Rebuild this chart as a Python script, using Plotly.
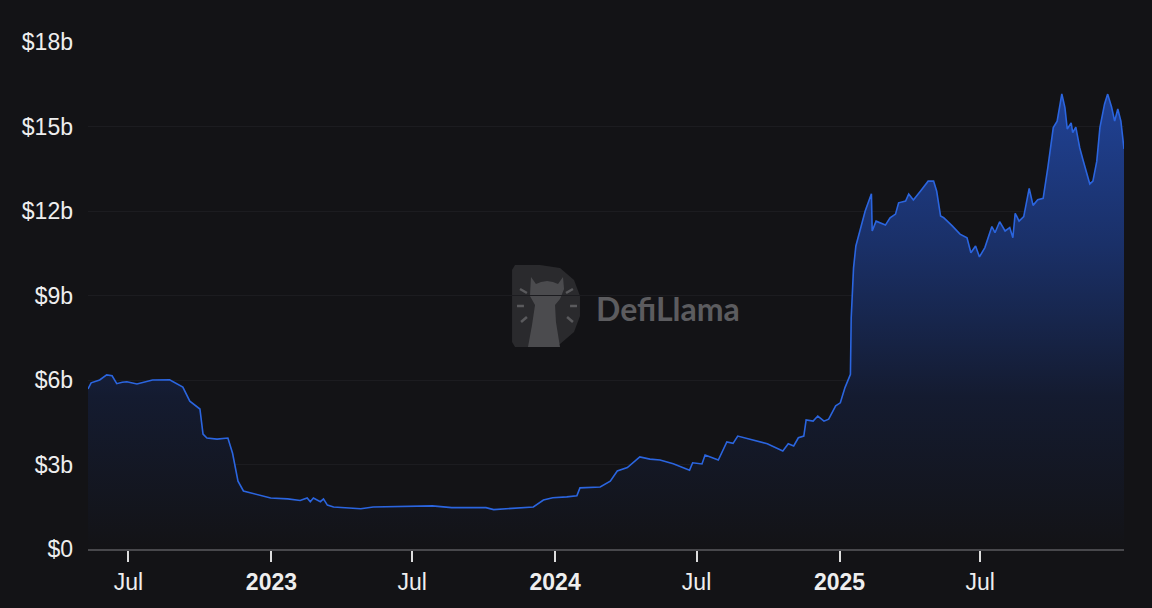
import plotly.graph_objects as go

# TVL, in billions of USD
dates = [
    "2022-05-10", "2022-05-14", "2022-05-25", "2022-06-03", "2022-06-10", "2022-06-16", "2022-06-23",
    "2022-06-29", "2022-07-12", "2022-08-01", "2022-08-23", "2022-09-01", "2022-09-09", "2022-09-18",
    "2022-10-01", "2022-10-05", "2022-10-10", "2022-10-23", "2022-11-06", "2022-11-12", "2022-11-19",
    "2022-11-26", "2022-12-14", "2022-12-31", "2023-01-22", "2023-02-07", "2023-02-16", "2023-02-20",
    "2023-02-24", "2023-03-05", "2023-03-09", "2023-03-14", "2023-03-22", "2023-04-26", "2023-05-12",
    "2023-07-01", "2023-07-27", "2023-08-21", "2023-10-04", "2023-10-14", "2023-12-04", "2023-12-17",
    "2023-12-29", "2024-01-16", "2024-01-29", "2024-02-02", "2024-02-28", "2024-03-12", "2024-03-21",
    "2024-04-03", "2024-04-19", "2024-05-02", "2024-05-15", "2024-06-01", "2024-06-22", "2024-06-26",
    "2024-07-08", "2024-07-12", "2024-07-29", "2024-08-09", "2024-08-17", "2024-08-23", "2024-09-08",
    "2024-09-30", "2024-10-20", "2024-10-27", "2024-11-03", "2024-11-09", "2024-11-16", "2024-11-19",
    "2024-11-28", "2024-12-04", "2024-12-12", "2024-12-18", "2024-12-27", "2025-01-02", "2025-01-08",
    "2025-01-15", "2025-01-16", "2025-01-19", "2025-01-22", "2025-01-28", "2025-02-03", "2025-02-11",
    "2025-02-12", "2025-02-17", "2025-03-01", "2025-03-07", "2025-03-14", "2025-03-18", "2025-03-27",
    "2025-03-31", "2025-04-06", "2025-04-16", "2025-04-25", "2025-05-02", "2025-05-06", "2025-05-11",
    "2025-05-15", "2025-05-26", "2025-06-05", "2025-06-14", "2025-06-19", "2025-06-25", "2025-06-30",
    "2025-07-07", "2025-07-16", "2025-07-20", "2025-07-26", "2025-08-02", "2025-08-08", "2025-08-12",
    "2025-08-15", "2025-08-20", "2025-08-26", "2025-09-02", "2025-09-07", "2025-09-13", "2025-09-20",
    "2025-09-26", "2025-10-03", "2025-10-08", "2025-10-14", "2025-10-18", "2025-10-21", "2025-10-26",
    "2025-10-28", "2025-11-01", "2025-11-06", "2025-11-10", "2025-11-15", "2025-11-19", "2025-11-23",
    "2025-11-28", "2025-12-02", "2025-12-08", "2025-12-12", "2025-12-17", "2025-12-21", "2025-12-25",
    "2025-12-29", "2026-01-02",
]
tvl_b = [
    5.68, 5.90, 6.00, 6.18, 6.15, 5.87, 5.92,
    5.94, 5.86, 6.00, 6.01, 5.86, 5.75, 5.25,
    4.97, 4.08, 3.94, 3.90, 3.94, 3.40, 2.41,
    2.06, 1.92, 1.81, 1.78, 1.72, 1.81, 1.68,
    1.81, 1.68, 1.78, 1.56, 1.49, 1.43, 1.49,
    1.52, 1.53, 1.47, 1.47, 1.40, 1.49, 1.74,
    1.82, 1.85, 1.89, 2.17, 2.20, 2.41, 2.77,
    2.89, 3.27, 3.19, 3.16, 3.03, 2.80, 3.06,
    3.02, 3.34, 3.16, 3.80, 3.75, 4.01, 3.90,
    3.74, 3.48, 3.74, 3.66, 3.95, 4.01, 4.58,
    4.54, 4.72, 4.54, 4.61, 5.08, 5.19, 5.73,
    6.20, 8.20, 9.98, 10.76, 11.36, 12.00, 12.61,
    11.29, 11.64, 11.50, 11.76, 11.89, 12.29, 12.35,
    12.60, 12.39, 12.74, 13.06, 13.06, 12.70, 11.82,
    11.76, 11.47, 11.18, 11.05, 10.52, 10.76, 10.37,
    10.70, 11.45, 11.23, 11.62, 11.29, 11.41, 11.05,
    11.92, 11.64, 11.80, 12.80, 12.20, 12.40, 12.45,
    13.54, 14.96, 15.19, 16.16, 15.67, 14.91, 15.13,
    14.78, 14.98, 14.25, 13.84, 13.31, 12.96, 13.06,
    13.77, 14.96, 15.80, 16.15, 15.69, 15.19, 15.62,
    15.19, 14.20,
]

x_tick_dates = ["2022-07-01", "2023-01-01", "2023-07-01", "2024-01-01",
                "2024-07-01", "2025-01-01", "2025-07-01"]
x_tick_labels = ["Jul", "<b>2023</b>", "Jul", "<b>2024</b>", "Jul", "<b>2025</b>", "Jul"]
y_tick_vals = [0, 3, 6, 9, 12, 15, 18]
y_tick_labels = ["$0", "$3b", "$6b", "$9b", "$12b", "$15b", "$18b"]

BG = "#131316"
LINE = "#2b65df"

# plot area in window pixels, used for margins and the watermark
L, R, T, B = 88, 1124, 42, 549


def px(x, y):
    return (x - L) / (R - L), (B - y) / (B - T)


def path(points, close=True):
    parts = []
    for i, (x, y) in enumerate(points):
        u, v = px(x, y)
        parts.append(("M" if i == 0 else "L") + f"{u:.4f},{v:.4f}")
    return " ".join(parts) + (" Z" if close else "")


fig = go.Figure()
fig.add_trace(go.Scatter(
    x=dates, y=tvl_b, mode="lines",
    line=dict(color=LINE, width=1.6),
    fill="tozeroy",
    fillgradient=dict(
        type="vertical", start=0, stop=18,
        colorscale=[[0, "rgb(19,19,22)"], [0.3, "rgb(20,27,48)"],
                    [0.6, "rgb(26,48,104)"], [1, "rgb(34,72,165)"]],
    ),
    hoverinfo="skip", showlegend=False,
))

# DefiLlama watermark: D badge, llama silhouette and rays
shapes = []
d_pts = [(512, 270), (515, 265), (540, 265), (560, 268), (574, 280), (580, 296), (580, 316),
         (574, 332), (560, 344), (540, 347), (515, 347), (512, 342)]
shapes.append(dict(type="path", xref="paper", yref="paper", path=path(d_pts),
                   fillcolor="#2a2a2d", line=dict(width=0), layer="below"))
llama = [(531, 277), (536, 284), (541, 282), (547, 281), (553, 282), (558, 284), (563, 277),
         (564, 289), (560, 299), (555, 305), (556, 322), (560, 347), (528, 347), (532, 325),
         (535, 305), (530, 296)]
shapes.append(dict(type="path", xref="paper", yref="paper", path=path(llama),
                   fillcolor="#4b4b4e", line=dict(width=0), layer="below"))
rays = [((520, 289), (527, 293)), ((517, 306), (524, 306)), ((521, 322), (527, 317)),
        ((566, 293), (573, 289)), ((570, 306), (577, 306)), ((567, 317), (573, 322))]
for a, b in rays:
    shapes.append(dict(type="path", xref="paper", yref="paper", path=path([a, b], close=False),
                       line=dict(color="#5a5a5d", width=2.5), layer="below"))

tx, ty = px(594, 308)
fig.add_annotation(x=tx, y=ty, xref="paper", yref="paper", xanchor="left", yanchor="middle",
                   text="<b>DefiLlama</b>", showarrow=False,
                   font=dict(family="Lato", size=32, color="#5c5c5f"))

fig.update_layout(
    width=1152, height=608,
    margin=dict(l=L, r=1152 - R, t=T, b=608 - B),
    paper_bgcolor=BG, plot_bgcolor=BG,
    font=dict(family="Liberation Sans, Arial, sans-serif", size=23, color="#eeeeee"),
    shapes=shapes,
    xaxis=dict(
        type="date", range=["2022-05-10", "2026-01-02"],
        tickvals=x_tick_dates, ticktext=x_tick_labels,
        showgrid=False, zeroline=False,
        showline=True, linecolor="#48484c", linewidth=2,
        ticks="outside", ticklen=11, tickwidth=1.5, tickcolor="#dddddd",
        tickfont=dict(size=23, color="#eeeeee"),
    ),
    yaxis=dict(
        range=[0, 18], tickvals=y_tick_vals, ticktext=y_tick_labels,
        showgrid=True, gridcolor="#1c1c20", gridwidth=1,
        zeroline=False, showline=False, ticks="",
        ticklabelstandoff=14,
        tickfont=dict(size=23, color="#eeeeee"),
    ),
)

# drop the default page margin so the figure fills the window exactly
page_css = ("document.body.style.margin='0';"
            "document.body.style.overflow='hidden';"
            f"document.body.style.background='{BG}';")
fig.write_html("out.html", post_script=page_css, config={"displayModeBar": False})
